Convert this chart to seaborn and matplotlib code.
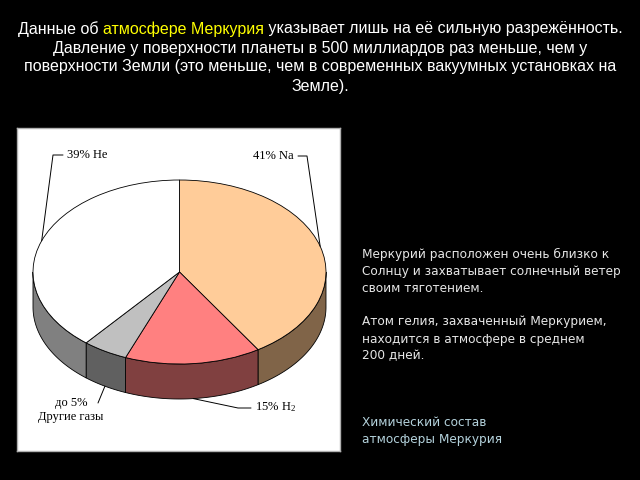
import numpy as np
import matplotlib
matplotlib.use('Agg')
import matplotlib.pyplot as plt
import seaborn as sns

# ---------------- data ----------------
gases = ['Na', 'H2', 'Другие газы', 'He']
shares = [41, 15, 5, 39]
slice_labels = ['41% Na', '15% H$_2$', 'до 5%\nДругие газы', '39% He']
top_colors = ['#FFCC99', '#FF8080', '#C0C0C0', '#FFFFFF']
side_colors = ['#806448', '#804040', '#606060', '#808080']

title_first = [("Данные об ", '#FFFFFF'),
               ("атмосфере Меркурия", '#FFFF00'),
               (" указывает лишь на её сильную разрежённость.", '#FFFFFF')]
title_rest = ["Давление у поверхности планеты в 500 миллиардов раз меньше, чем у",
              "поверхности Земли (это меньше, чем в современных вакуумных установках на",
              "Земле)."]
note_lines = ["Меркурий расположен очень близко к",
              "Солнцу и захватывает солнечный ветер",
              "своим тяготением.",
              "",
              "Атом гелия, захваченный Меркурием,",
              "находится в атмосфере в среднем",
              "200 дней."]
caption_lines = ["Химический состав", "атмосферы Меркурия"]

# ---------------- style ----------------
sns.set_theme(style='white')
plt.rcParams['font.family'] = ['Liberation Sans', 'DejaVu Sans']
plt.rcParams['mathtext.fontset'] = 'custom'
plt.rcParams['mathtext.rm'] = 'Liberation Serif'
plt.rcParams['mathtext.it'] = 'Liberation Serif:italic'
plt.rcParams['mathtext.bf'] = 'Liberation Serif:bold'

W, H = 640, 480
fig = plt.figure(figsize=(6.4, 4.8), dpi=100, facecolor='black')

# frame (pixel box of the chart picture)
fx0, fy0, fx1, fy1 = 17, 128, 340, 451
ax = fig.add_axes([fx0 / W, 1 - fy1 / H, (fx1 - fx0) / W, (fy1 - fy0) / H])
ax.set_facecolor('white')

# pie geometry in pixels
cx, cy, rx, ry, depth_px = 179.5, 272.0, 146.5, 92.0, 35.0
depth = depth_px / ry


def to_data(px, py):
    return (px - cx) / rx, (cy - py) / ry


wedges, _ = ax.pie(shares, colors=top_colors, startangle=90, counterclock=False,
                   radius=1.0, center=(0, 0),
                   wedgeprops=dict(edgecolor='black', linewidth=0.6, zorder=3))
ax.set_aspect('auto')
xl0, yl0 = to_data(fx0, fy1)
xl1, yl1 = to_data(fx1, fy0)
ax.set_xlim(xl0, xl1)
ax.set_ylim(yl0, yl1)
ax.set_frame_on(True)
for s in ax.spines.values():
    s.set_color('#B0B0B0')
    s.set_linewidth(1.0)
ax.set_xticks([])
ax.set_yticks([])

# side walls (front half of the disc)
start = 90.0
mids = []
for share, side in zip(shares, side_colors):
    end = start - share * 3.6
    mids.append(np.radians((start + end) / 2))
    lo, hi = max(end, -180.0), min(start, 0.0)
    if hi > lo:
        t = np.radians(np.linspace(lo, hi, 80))
        xs = np.cos(t)
        ytop = np.sin(t)
        ybot = ytop - depth
        ax.fill(np.r_[xs, xs[::-1]], np.r_[ytop, ybot[::-1]],
                facecolor=side, edgecolor='black', linewidth=0.6, zorder=1)
    start = end

# labels with leader lines
serif = ['Liberation Serif', 'DejaVu Serif']
lab_fs = 9
lead_kw = dict(color='black', linewidth=0.7, zorder=4)

# Na (index 0) – top edge
m = mids[0]
tx, ty = to_data(294, 156)
ax.text(tx, ty, slice_labels[0], ha='right', va='center', fontsize=lab_fs,
        family=serif, color='black')
c1 = to_data(298, 156); c2 = to_data(307, 156)
ax.plot([c1[0], c2[0], np.cos(m)], [c1[1], c2[1], np.sin(m)], **lead_kw)

# He (index 3) – top edge
m = mids[3]
tx, ty = to_data(67, 155)
ax.text(tx, ty, slice_labels[3], ha='left', va='center', fontsize=lab_fs,
        family=serif, color='black')
c1 = to_data(63, 155); c2 = to_data(53, 155)
ax.plot([c1[0], c2[0], np.cos(m)], [c1[1], c2[1], np.sin(m)], **lead_kw)

# H2 (index 1) – wall bottom
m = mids[1]
tx, ty = to_data(255, 407)
ax.text(tx, ty, slice_labels[1], ha='left', va='center', fontsize=lab_fs,
        family=serif, color='black')
c1 = to_data(251, 408); c2 = to_data(238, 408)
ax.plot([c1[0], c2[0], np.cos(m)], [c1[1], c2[1], np.sin(m) - depth], **lead_kw)

# Others (index 2) – wall bottom
m = mids[2]
tx, ty = to_data(71, 410)
ax.text(tx, ty, slice_labels[2], ha='center', va='center', fontsize=lab_fs,
        family=serif, color='black', linespacing=1.2)
c1 = to_data(98, 403)
ax.plot([c1[0], np.cos(m)], [c1[1], np.sin(m) - depth], **lead_kw)

# ---------------- slide texts ----------------
title_fs = 11.55
renderer = fig.canvas.get_renderer()


def text_width(s):
    t = fig.text(0, 0, s + 'x', fontsize=title_fs)
    w = t.get_window_extent(renderer).width
    t.remove()
    t2 = fig.text(0, 0, 'x', fontsize=title_fs)
    wx = t2.get_window_extent(renderer).width
    t2.remove()
    return w - wx


full = ''.join(p for p, _ in title_first)
total = text_width(full)
x = W / 2 - total / 2
prefix = ''
for part, col in title_first:
    fig.text((x + text_width(prefix)) / W, 1 - 29 / H, part, fontsize=title_fs,
             color=col, ha='left', va='center')
    prefix += part

for line, yy in zip(title_rest, [49, 67, 86]):
    fig.text(0.5, 1 - yy / H, line, fontsize=title_fs, color='white',
             ha='center', va='center')

note_fs = 8.75
note_y = [254, 271, 288, 305, 322, 339, 356]
for line, yy in zip(note_lines, note_y):
    if line:
        fig.text(362 / W, 1 - yy / H, line, fontsize=note_fs, color='#E6E6E6',
                 ha='left', va='center', family=['DejaVu Sans'])

for line, yy in zip(caption_lines, [423, 440]):
    fig.text(362 / W, 1 - yy / H, line, fontsize=note_fs, color='#B4D2DC',
             ha='left', va='center', family=['DejaVu Sans'])

fig.savefig('out.png', dpi=100, facecolor='black')
